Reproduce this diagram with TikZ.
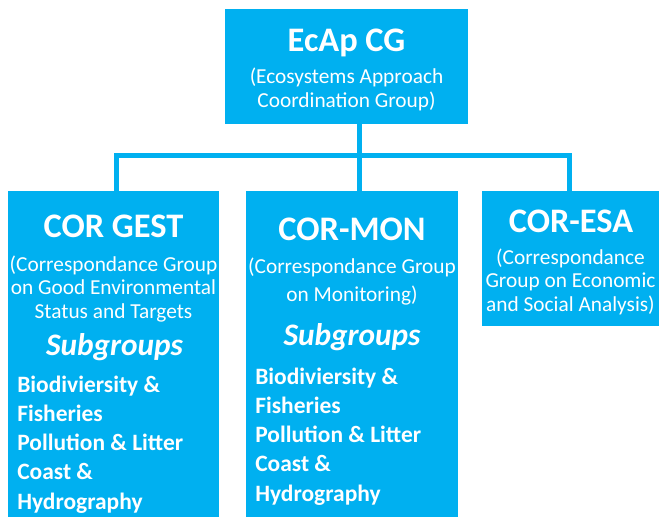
\documentclass[tikz,border=0pt]{standalone}
\usepackage{fontspec}
\setmainfont{Carlito}
\definecolor{BoxBlue}{RGB}{0,176,240}
\tikzset{
  grpbox/.style={fill=BoxBlue, inner sep=0pt, outer sep=0pt},
  grptitle/.style={text=white, font=\fontsize{25.8}{30}\selectfont\bfseries, inner sep=0pt, anchor=base},
  grpnote/.style={text=white, font=\fontsize{16}{17.6}\selectfont, align=center, inner sep=0pt, anchor=base},
  subhead/.style={text=white, font=\fontsize{23.5}{28}\selectfont\bfseries\itshape, inner sep=0pt, anchor=base},
  subitems/.style={text=white, font=\fontsize{17.6}{21.8}\selectfont\bfseries, align=left, inner sep=0pt, anchor=base west},
  link/.style={draw=BoxBlue, line width=3.75pt},
}
\begin{document}
\begin{tikzpicture}[x=0.75pt, y=-0.75pt]
    \useasboundingbox (0,0) rectangle (659,517);
    % group boxes
    \node [grpbox, minimum width=243*0.75pt, minimum height=115*0.75pt] (ecap) at (346.5, 66.5) {};
    \node [grpbox, minimum width=211*0.75pt, minimum height=326*0.75pt] (gest) at (113.5, 354) {};
    \node [grpbox, minimum width=212*0.75pt, minimum height=326*0.75pt] (mon)  at (352, 354) {};
    \node [grpbox, minimum width=177*0.75pt, minimum height=135*0.75pt] (esa)  at (570.5, 258.5) {};
    % connectors
    \coordinate (busL) at (116.5, 155.5);
    \coordinate (busM) at (359.5, 155.5);
    \coordinate (busR) at (569.5, 155.5);
    \draw [link] (busL |- gest.north) -- (busL) -- (busR) -- (busR |- esa.north);
    \draw [link] (busM |- ecap.south) -- (busM |- mon.north);
    % top group (multi-line texts sit on their last line)
    \node [grptitle] (ecapT) at (346.5, 51) {EcAp CG};
    \node [grpnote] (ecapN) at (346.5, 107) {(Ecosystems Approach\\Coordination Group)};
    % COR GEST
    \node [grptitle] (gestT) at (113.5, 237) {COR GEST};
    \node [grpnote] (gestN) at (113.5, 318) {(Correspondance Group\\on Good Environmental\\Status and Targets};
    \node [subhead] (gestS) at (114.5, 355) {Subgroups};
    \node [subitems] (gestI) at (17, 509) {Biodiviersity \&\\Fisheries\\Pollution \& Litter\\Coast \&\\Hydrography};
    % COR-MON
    \node [grptitle] (monT) at (352, 240) {COR-MON};
    \node [grpnote, font=\fontsize{16}{21}\selectfont] (monN) at (352, 301) {(Correspondance Group\\on Monitoring)};
    \node [subhead] (monS) at (352, 345) {Subgroups};
    \node [subitems] (monI) at (255, 501) {Biodiviersity \&\\Fisheries\\Pollution \& Litter\\Coast \&\\Hydrography};
    % COR-ESA
    \node [grptitle] (esaT) at (571, 232) {COR-ESA};
    \node [grpnote] (esaN) at (570.5, 311) {(Correspondance\\Group on Economic\\and Social Analysis)};
\end{tikzpicture}
\end{document}
